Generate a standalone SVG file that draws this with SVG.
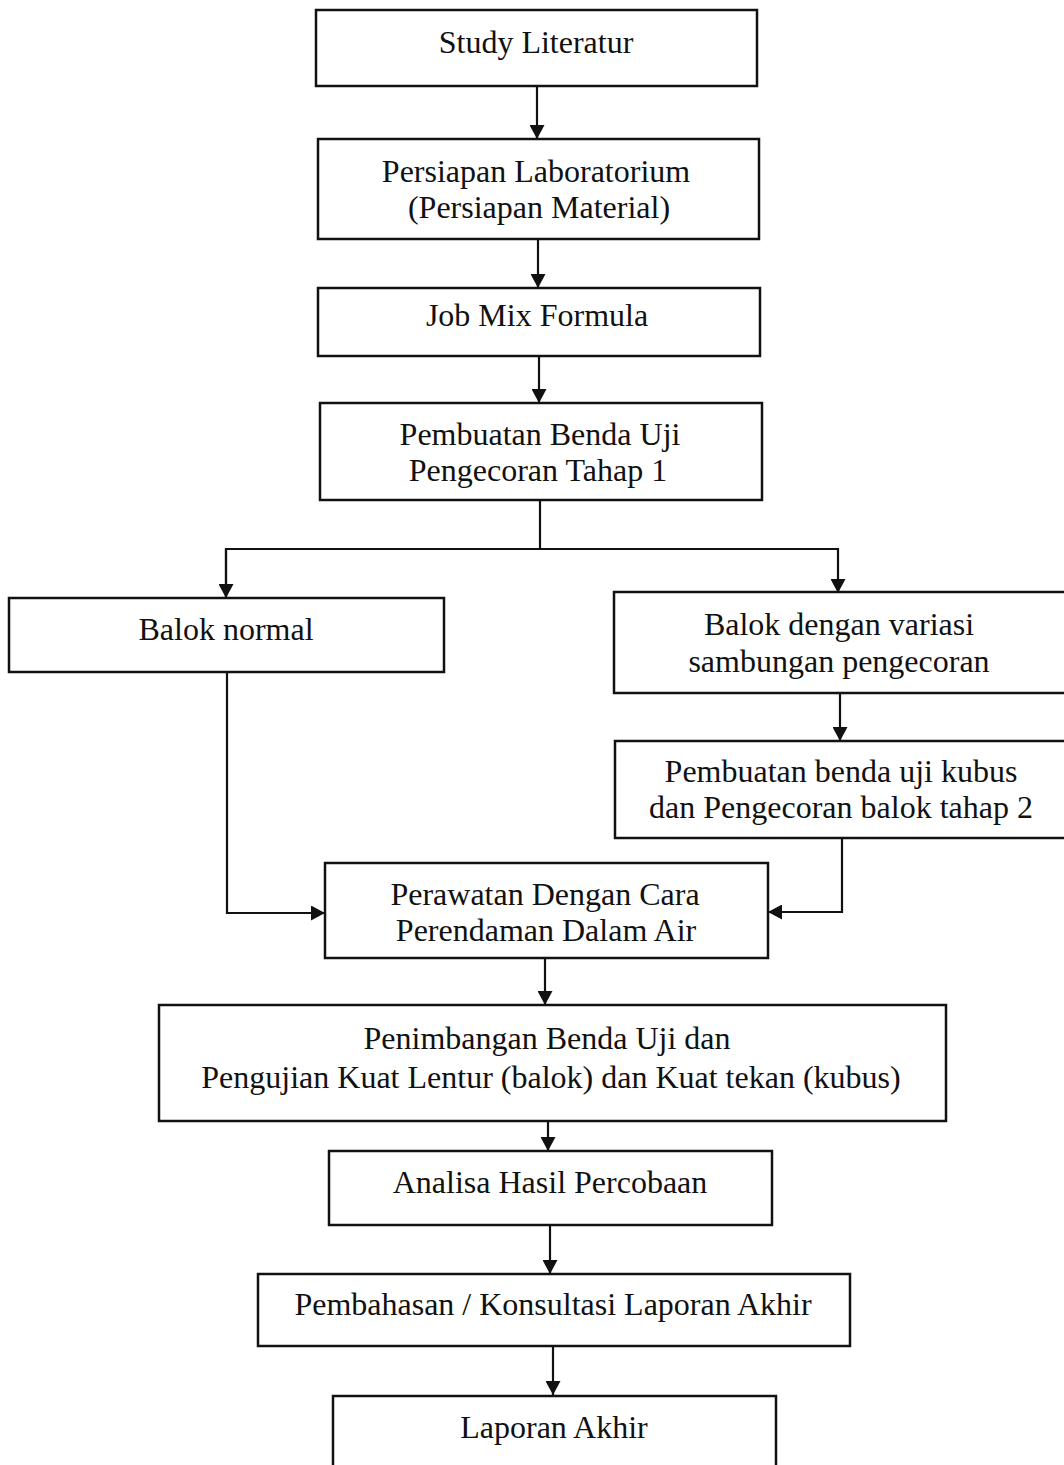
<svg xmlns="http://www.w3.org/2000/svg" width="1064" height="1465" viewBox="0 0 1064 1465">
<style>
.b{fill:none;stroke:#111;stroke-width:2.5}
.c{fill:none;stroke:#111;stroke-width:2.2}
text{font-family:"Liberation Serif","Times New Roman",serif;font-size:32px;fill:#111;text-anchor:middle}
</style>
<defs>
<marker id="ah" viewBox="0 0 14 15" refX="14" refY="7.5" markerWidth="14" markerHeight="15" markerUnits="userSpaceOnUse" orient="auto"><path d="M0,0L14,7.5L0,15z" fill="#111"/></marker>
</defs>
<rect width="1064" height="1465" fill="#fff"/>
<g id="connectors">
<path class="c" d="M537,86V139" marker-end="url(#ah)"/>
<path class="c" d="M538,239V288" marker-end="url(#ah)"/>
<path class="c" d="M539,356V403" marker-end="url(#ah)"/>
<path class="c" d="M540,500V549"/>
<path class="c" d="M226,598V549H838V593" marker-end="url(#ah)"/>
<path class="c" d="M226,549V598" marker-end="url(#ah)"/>
<path class="c" d="M840,693V741" marker-end="url(#ah)"/>
<path class="c" d="M227,672V913H325" marker-end="url(#ah)"/>
<path class="c" d="M842,838V912H768" marker-end="url(#ah)"/>
<path class="c" d="M545,958V1005" marker-end="url(#ah)"/>
<path class="c" d="M548,1121V1151" marker-end="url(#ah)"/>
<path class="c" d="M550,1225V1274" marker-end="url(#ah)"/>
<path class="c" d="M553,1346V1395" marker-end="url(#ah)"/>
</g>
<g id="n1"><rect class="b" x="316" y="10" width="441" height="76"/><text x="536" y="53">Study Literatur</text></g>
<g id="n2"><rect class="b" x="318" y="139" width="441" height="100"/><text x="536" y="182">Persiapan Laboratorium</text><text x="539" y="218">(Persiapan Material)</text></g>
<g id="n3"><rect class="b" x="318" y="288" width="442" height="68"/><text x="537" y="326">Job Mix Formula</text></g>
<g id="n4"><rect class="b" x="320" y="403" width="442" height="97"/><text x="540" y="445">Pembuatan Benda Uji</text><text x="538" y="481">Pengecoran Tahap 1</text></g>
<g id="n5"><rect class="b" x="9" y="598" width="435" height="74"/><text x="226" y="640">Balok normal</text></g>
<g id="n6"><rect class="b" x="614" y="592" width="456" height="101"/><text x="839" y="635">Balok dengan variasi</text><text x="839" y="672">sambungan pengecoran</text></g>
<g id="n7"><rect class="b" x="615" y="741" width="455" height="97"/><text x="841" y="782">Pembuatan benda uji kubus</text><text x="841" y="818">dan Pengecoran balok tahap 2</text></g>
<g id="n8"><rect class="b" x="325" y="863" width="443" height="95"/><text x="545" y="905">Perawatan Dengan Cara</text><text x="546" y="941">Perendaman Dalam Air</text></g>
<g id="n9"><rect class="b" x="159" y="1005" width="787" height="116"/><text x="547" y="1049">Penimbangan Benda Uji dan</text><text x="551" y="1088">Pengujian Kuat Lentur (balok) dan Kuat tekan (kubus)</text></g>
<g id="n10"><rect class="b" x="329" y="1151" width="443" height="74"/><text x="550" y="1193">Analisa Hasil Percobaan</text></g>
<g id="n11"><rect class="b" x="258" y="1274" width="592" height="72"/><text x="553" y="1315">Pembahasan / Konsultasi Laporan Akhir</text></g>
<g id="n12"><rect class="b" x="333" y="1396" width="443" height="80"/><text x="554" y="1438">Laporan Akhir</text></g>
</svg>
